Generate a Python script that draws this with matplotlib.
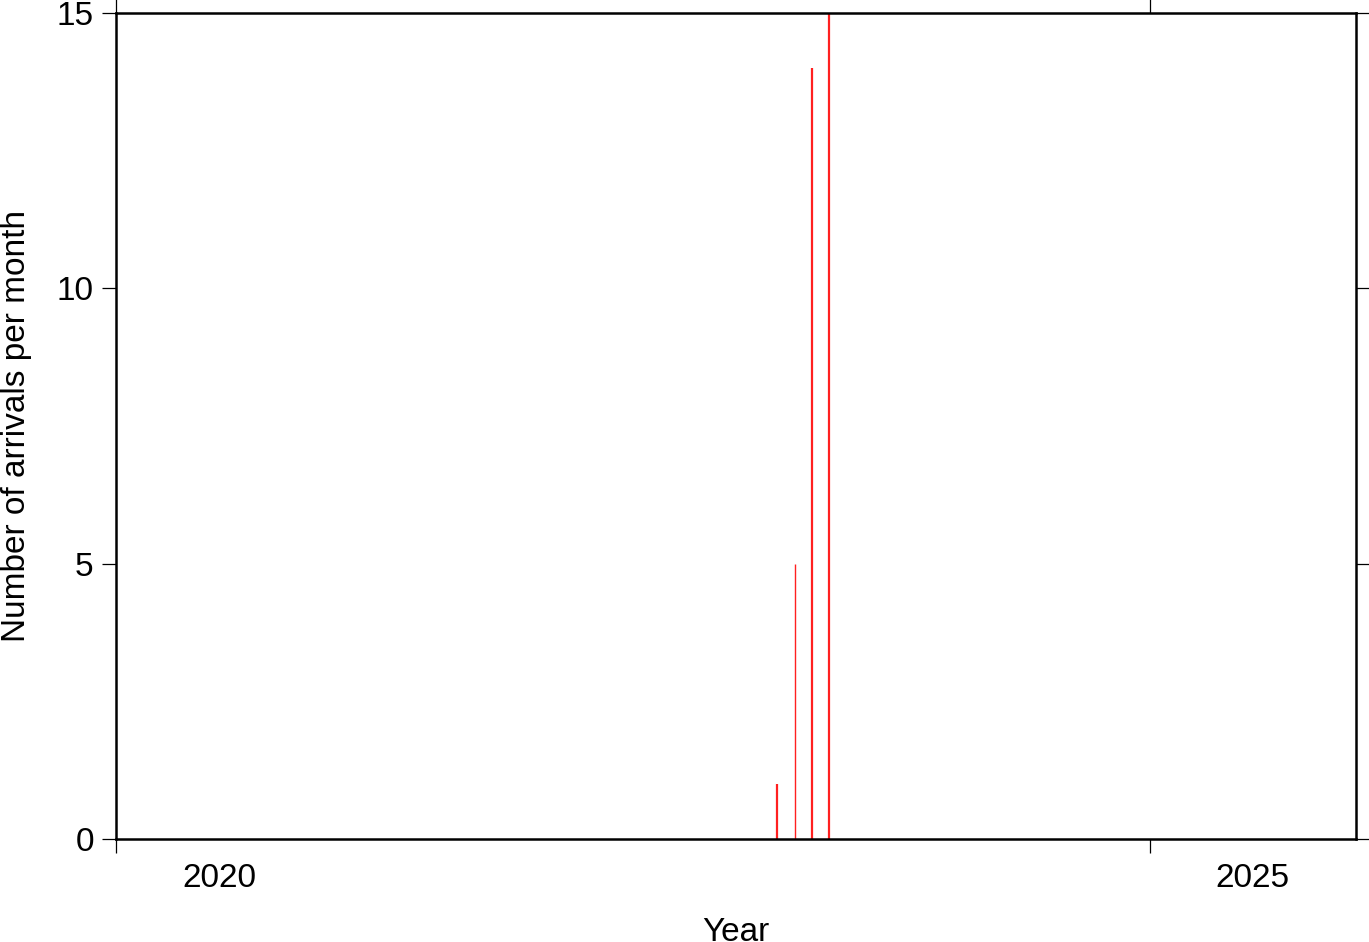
import matplotlib
matplotlib.use("Agg")
import matplotlib.pyplot as plt
import datetime as dt

plt.rcParams['font.family'] = ['Liberation Sans', 'DejaVu Sans']

months = ["2023-03-15", "2023-04-15", "2023-05-15", "2023-06-15"]
counts = [1, 5, 14, 15]
widths = [1.6, 1.0, 1.6, 1.6]
year_ticks = ["2020-01-01", "2025-01-01"]
year_labels = ["2020", "2025"]
xlim = ["2020-01-01", "2026-01-01"]
yticks = [0, 5, 10, 15]

def d(s):
    return dt.datetime.strptime(s, "%Y-%m-%d")

FS = 24

fig = plt.figure(figsize=(13.69, 9.42), dpi=100)
ax = fig.add_axes([116/1369, 1-839/942, (1356-116)/1369, (839-13)/942])

for m, c, w in zip(months, counts, widths):
    ax.vlines(d(m), 0, c, color='#ff2020', linewidth=w)

ax.set_xlim(d(xlim[0]), d(xlim[1]))
ax.set_ylim(0, 15)

ax.set_xticks([d(t) for t in year_ticks])
ax.set_xticklabels([])
mid = [d(t) + dt.timedelta(days=182) for t in year_ticks]
ax.set_xticks(mid, minor=True)
ax.set_xticklabels(year_labels, minor=True, fontsize=FS)
ax.tick_params(axis='x', which='minor', length=0, pad=17)
ax.tick_params(axis='both', which='major', direction='out', length=10, width=0.9,
               top=True, right=True, labelsize=FS)
ax.set_yticks(yticks)
ax.tick_params(axis='y', pad=6)

for s in ax.spines.values():
    s.set_linewidth(1.8)

ax.set_xlabel("Year", fontsize=FS, labelpad=17)
ax.set_ylabel("Number of arrivals per month", fontsize=FS, labelpad=18)

fig.savefig("out.png", dpi=100)
